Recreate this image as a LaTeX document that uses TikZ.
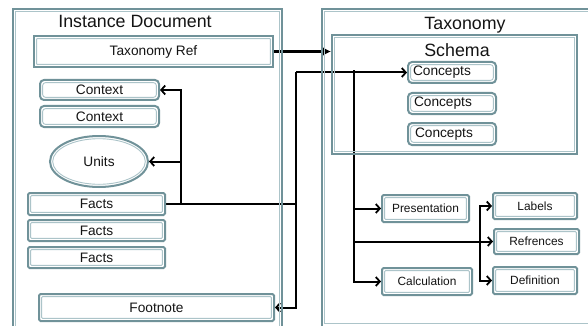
\documentclass[tikz,border=0pt]{standalone}
\usepackage{fontspec}
\setmainfont{Liberation Sans}
\usetikzlibrary{arrows.meta,shapes.geometric}
\definecolor{bordc}{RGB}{112,146,153}
\definecolor{bordl}{RGB}{172,196,201}
\definecolor{ink}{RGB}{20,20,20}
\pgfdeclarelayer{bg}
\pgfsetlayers{bg,main}
\tikzset{
  frame/.style={draw=bordc, line width=2pt, fill=white, inner sep=0pt, text=ink,
    path picture={\draw[draw=bordl, line width=0.9pt, rounded corners=#1]
      ([xshift=2.6pt,yshift=2.6pt]path picture bounding box.south west) rectangle
      ([xshift=-2.6pt,yshift=-2.6pt]path picture bounding box.north east);}},
  frame/.default=0.6pt,
  bigframe/.style={draw=bordc, line width=2pt, inner sep=0pt,
    path picture={\draw[draw=bordl, line width=1pt]
      ([xshift=2.6pt,yshift=2.6pt]path picture bounding box.south west) rectangle
      ([xshift=-2.6pt,yshift=-2.6pt]path picture bounding box.north east);}},
  lbl/.style={font=\fontsize{13.7}{15}\selectfont},
  slbl/.style={font=\fontsize{11.9}{13}\selectfont},
  title/.style={font=\fontsize{17.8}{19}\selectfont, text=ink, anchor=base, inner sep=0pt},
  conn/.style={draw=black, line width=2pt},
  arr/.style={conn, -{Straight Barb[length=4pt,width=9pt,line width=1.8pt]}},
  arrT/.style={draw=black, line width=2.6pt, -{Latex[length=9pt,width=10pt]}},
}
\begin{document}
\begin{tikzpicture}[x=1pt,y=-1pt]
\useasboundingbox (0,0) rectangle (588,326);

% outer containers
\node[bigframe, minimum width=269pt, minimum height=330pt] (instdoc) at (147.5,174) {};
\node[bigframe, minimum width=277pt, minimum height=317.5pt] (taxonomy) at (460.5,167.75) {};
\node[title] at (135,27.5) {Instance Document};
\node[title] at (465,30) {Taxonomy};

% schema container
\node[bigframe, minimum width=245pt, minimum height=119pt] (schema) at (454.5,94.5) {};
\node[title] at (457,56.5) {Schema};

% instance document parts
\node[frame, lbl, minimum width=239pt, minimum height=31pt] (taxref) at (153.5,51.5) {Taxonomy Ref};
\node[frame=3pt, lbl, rounded corners=4pt, minimum width=119pt, minimum height=20pt] (ctx1) at (99.5,90) {Context};
\node[frame=3pt, lbl, rounded corners=4pt, minimum width=119pt, minimum height=21pt] (ctx2) at (99.5,116.5) {Context};
\node[ellipse, draw=bordc, line width=2pt, fill=white, inner sep=0pt, text=ink, lbl,
      minimum width=98pt, minimum height=51pt,
      path picture={\draw[draw=bordl, line width=0.9pt] (path picture bounding box.center)
        ellipse [x radius=46.3pt, y radius=22.8pt];}] (units) at (99,161.5) {Units};
\node[frame=1pt, lbl, rounded corners=1.5pt, minimum width=137pt, minimum height=22pt] (facts1) at (96.5,204) {Facts};
\node[frame=1pt, lbl, rounded corners=1.5pt, minimum width=137pt, minimum height=21pt] (facts2) at (96.5,230.5) {Facts};
\node[frame=1pt, lbl, rounded corners=1.5pt, minimum width=137pt, minimum height=21pt] (facts3) at (96.5,257.5) {Facts};
\node[frame=1pt, lbl, rounded corners=1.5pt, minimum width=235pt, minimum height=27pt] (footnote) at (156.5,307.5) {Footnote};

% taxonomy parts
\node[frame=3pt, lbl, rounded corners=4pt, minimum width=88pt, minimum height=21pt,
      text width=78pt, align=left] (cpt1) at (452,72.5) {Concepts};
\node[frame=3pt, lbl, rounded corners=4pt, minimum width=88pt, minimum height=21pt,
      text width=76pt, align=left] (cpt2) at (452,103.5) {Concepts};
\node[frame=3pt, lbl, rounded corners=4pt, minimum width=88pt, minimum height=22pt,
      text width=74pt, align=left] (cpt3) at (452,134) {Concepts};
\node[frame=1pt, slbl, rounded corners=1.5pt, minimum width=87pt, minimum height=27pt] (pres) at (425.5,208.5) {Presentation};
\node[frame=1pt, slbl, rounded corners=1.5pt, minimum width=90pt, minimum height=27pt] (calc) at (427,281.5) {Calculation};
\node[frame=1pt, slbl, rounded corners=1.5pt, minimum width=84pt, minimum height=26pt] (labels) at (535,206) {Labels};
\node[frame=1pt, slbl, rounded corners=1.5pt, minimum width=85pt, minimum height=25pt] (refs) at (536.5,241.5) {Refrences};
\node[frame=1pt, slbl, rounded corners=1.5pt, minimum width=84pt, minimum height=27pt] (defn) at (535,280.5) {Definition};

% junction points of the connector lines
\coordinate (jA) at (181,204);
\coordinate (jB) at (296,204);
\coordinate (jT) at (296,72.5);
\coordinate (jC) at (354,72.5);
\coordinate (jD) at (354,281.5);
\coordinate (jE) at (480,241.5);

\begin{pgfonlayer}{bg}
  \draw[arrT] (taxref.east) -- (schema.west |- taxref.east);
  \draw[conn] (facts1.east) -- (jB);
  \draw[arr] (jA) |- (ctx1.east);
  \draw[arr] (jA |- units.east) -- (units.east);
  \draw[arr] (jT) -- (cpt1.west);
  \draw[arr] (jT) |- (footnote.east);
  \draw[arr] ([yshift=2pt]jC) |- (calc.west);
  \draw[arr] (jC |- pres.west) -- (pres.west);
  \draw[arr] (jC |- refs.west) -- (refs.west);
  \draw[arr] (jE) |- (labels.west);
  \draw[arr] (jE) |- (defn.west);
\end{pgfonlayer}
\end{tikzpicture}
\end{document}
